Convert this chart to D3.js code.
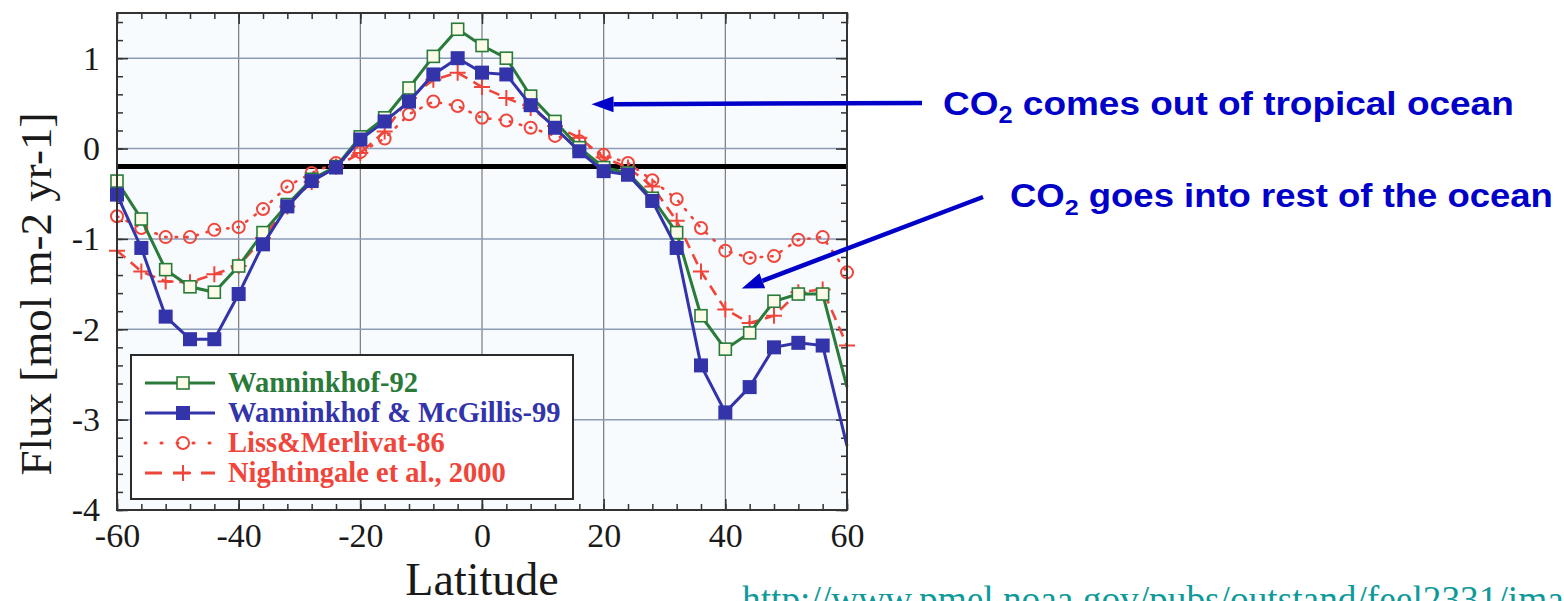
<!DOCTYPE html>
<html>
<head>
<meta charset="utf-8">
<script src="https://cdn.jsdelivr.net/npm/d3@7"></script>
<style>
  body { margin: 0; background: #ffffff; }
  svg { display: block; }
</style>
</head>
<body>
<svg id="chart" width="1564" height="601"></svg>
<script>
// latitude bins (every 4 degrees)
var lat = [-60, -56, -52, -48, -44, -40, -36, -32, -28, -24, -20, -16, -12, -8, -4, 0,
           4, 8, 12, 16, 20, 24, 28, 32, 36, 40, 44, 48, 52, 56, 60];

// flux values [mol m-2 yr-1]
var wann92 = [-0.36, -0.78, -1.34, -1.53, -1.59, -1.30, -0.93, -0.62, -0.34, -0.20, 0.13, 0.34, 0.67, 1.02, 1.32, 1.14,
              1.00, 0.58, 0.30, 0.01, -0.21, -0.27, -0.55, -0.93, -1.85, -2.22, -2.04, -1.69, -1.61, -1.61, -2.64];
var wannMcG99 = [-0.51, -1.10, -1.86, -2.11, -2.11, -1.61, -1.06, -0.64, -0.36, -0.21, 0.10, 0.30, 0.52, 0.82, 1.00, 0.84,
                 0.82, 0.48, 0.23, -0.03, -0.25, -0.29, -0.58, -1.10, -2.40, -2.92, -2.64, -2.20, -2.15, -2.18, -3.29];
var liss86 = [-0.75, -0.88, -0.98, -0.98, -0.90, -0.87, -0.67, -0.42, -0.27, -0.16, -0.04, 0.11, 0.38, 0.52, 0.47, 0.34,
              0.31, 0.23, 0.14, 0.08, -0.07, -0.16, -0.35, -0.56, -0.88, -1.13, -1.21, -1.19, -1.01, -0.98, -1.37];
var night00 = [-1.13, -1.36, -1.47, -1.48, -1.39, -1.30, -0.99, -0.64, -0.37, -0.20, -0.05, 0.19, 0.56, 0.76, 0.84, 0.68,
               0.56, 0.45, 0.25, 0.12, -0.10, -0.21, -0.42, -0.80, -1.36, -1.78, -1.93, -1.85, -1.59, -1.56, -2.18];

var seriesNames = ["Wanninkhof-92", "Wanninkhof & McGillis-99", "Liss&Merlivat-86", "Nightingale et al., 2000"];

var xTicks = [-60, -40, -20, 0, 20, 40, 60];
var yTicks = [-4, -3, -2, -1, 0, 1];
var xGrid = [-40, -20, 0, 20, 40];
var yGrid = [-3, -2, -1, 0, 1];
var zeroLine = -0.2;   // thick black reference line

var notes = ["comes out of tropical ocean", "goes into rest of the ocean"];
var sourceUrl = "http://www.pmel.noaa.gov/pubs/outstand/feel2331/images";

var svg = d3.select("#chart");
var plotL = 117, plotR = 847, plotT = 13, plotB = 510;

var x = d3.scaleLinear().domain([-60, 60]).range([plotL, plotR]);
var y = d3.scaleLinear().domain([-4, 1.5]).range([plotB, plotT]);

var green = "#2a7a3a", blue = "#3333aa", red = "#f0453a", noteBlue = "#0000c8";
var serif = "Liberation Serif, Times New Roman, serif";

function plainNum(d) { return String(d); } // hyphen minus, like the original

// plot background
svg.append("rect")
    .attr("x", plotL).attr("y", plotT)
    .attr("width", plotR - plotL).attr("height", plotB - plotT)
    .attr("fill", "#f7fbfd");

// grid
svg.selectAll(".vgrid").data(xGrid).enter().append("line")
    .attr("class", "vgrid")
    .attr("x1", function (d) { return x(d); }).attr("x2", function (d) { return x(d); })
    .attr("y1", plotT).attr("y2", plotB)
    .attr("stroke", "#7a7a7a").attr("stroke-width", 1.2);

svg.selectAll(".hgrid").data(yGrid).enter().append("line")
    .attr("class", "hgrid")
    .attr("x1", plotL).attr("x2", plotR)
    .attr("y1", function (d) { return y(d); }).attr("y2", function (d) { return y(d); })
    .attr("stroke", "#8c9bb8").attr("stroke-width", 1.5);

// inward ticks on all four sides
function tickAxis(axis, values, size, tx, ty) {
    var g = svg.append("g")
        .attr("transform", "translate(" + tx + "," + ty + ")")
        .call(axis.tickValues(values).tickSize(size).tickFormat(""));
    g.select(".domain").remove();
    g.selectAll("line").attr("stroke", "#333").attr("stroke-width", 1.5);
    return g;
}
var xMinor = d3.range(-60, 61, 4);
var yMinor = d3.range(-4, 1.51, 0.2);
tickAxis(d3.axisBottom(x), xMinor, -6, 0, plotB);
tickAxis(d3.axisTop(x), xMinor, -6, 0, plotT);
tickAxis(d3.axisLeft(y), yMinor, -6, plotL, 0);
tickAxis(d3.axisRight(y), yMinor, -6, plotR, 0);
tickAxis(d3.axisBottom(x), xTicks, -11, 0, plotB);
tickAxis(d3.axisTop(x), xTicks, -11, 0, plotT);
tickAxis(d3.axisLeft(y), yTicks, -11, plotL, 0);
tickAxis(d3.axisRight(y), yTicks, -11, plotR, 0);

// tick labels
var xLab = svg.append("g")
    .attr("transform", "translate(0," + plotB + ")")
    .call(d3.axisBottom(x).tickValues(xTicks).tickSize(0).tickPadding(10).tickFormat(plainNum));
xLab.select(".domain").remove();
xLab.selectAll("text")
    .attr("font-family", serif)
    .attr("font-size", 34).attr("fill", "#1a1a1a")
    .attr("dy", "0.78em");

var yLab = svg.append("g")
    .attr("transform", "translate(" + plotL + ",0)")
    .call(d3.axisLeft(y).tickValues(yTicks).tickSize(0).tickPadding(17).tickFormat(plainNum));
yLab.select(".domain").remove();
yLab.selectAll("text")
    .attr("font-family", serif)
    .attr("font-size", 34).attr("fill", "#1a1a1a");

// axis titles
svg.append("text")
    .attr("x", 482).attr("y", 595)
    .attr("text-anchor", "middle")
    .attr("font-family", serif)
    .attr("font-size", 46).attr("fill", "#1a1a1a")
    .text("Latitude");

svg.append("text")
    .attr("transform", "translate(51,294) rotate(-90)")
    .attr("text-anchor", "middle")
    .attr("font-family", serif)
    .attr("font-size", 45).attr("fill", "#1a1a1a")
    .text("Flux [mol m-2 yr-1]");

// thick black line
svg.append("line")
    .attr("x1", plotL).attr("x2", plotR)
    .attr("y1", y(zeroLine)).attr("y2", y(zeroLine))
    .attr("stroke", "#000").attr("stroke-width", 5);

// series
var series = [
    { name: seriesNames[0], values: wann92, color: green, dash: null, marker: "openSquare", last: false },
    { name: seriesNames[1], values: wannMcG99, color: blue, dash: null, marker: "filledSquare", last: false },
    { name: seriesNames[2], values: liss86, color: red, dash: "1.5,9", marker: "circle", last: true },
    { name: seriesNames[3], values: night00, color: red, dash: "11,7", marker: "plus", last: true }
];

var line = d3.line()
    .x(function (d) { return x(d[0]); })
    .y(function (d) { return y(d[1]); });

function drawMarker(g, kind, color, cx, cy) {
    if (kind === "openSquare") {
        g.append("rect").attr("x", cx - 6).attr("y", cy - 6).attr("width", 12).attr("height", 12)
            .attr("fill", "#fbfbe8").attr("stroke", color).attr("stroke-width", 1.6);
    } else if (kind === "filledSquare") {
        g.append("rect").attr("x", cx - 7).attr("y", cy - 7).attr("width", 14).attr("height", 14)
            .attr("fill", color);
    } else if (kind === "circle") {
        g.append("circle").attr("cx", cx).attr("cy", cy).attr("r", 6)
            .attr("fill", "none").attr("stroke", color).attr("stroke-width", 2);
    } else {
        g.append("path")
            .attr("d", "M" + (cx - 8) + "," + cy + "H" + (cx + 8) + "M" + cx + "," + (cy - 8) + "V" + (cy + 8))
            .attr("stroke", color).attr("stroke-width", 2);
    }
}

// draw back to front: red ones first
[2, 3, 0, 1].forEach(function (i) {
    var s = series[i];
    var pts = lat.map(function (d, j) { return [d, s.values[j]]; });
    svg.append("path")
        .datum(pts)
        .attr("d", line)
        .attr("fill", "none")
        .attr("stroke", s.color)
        .attr("stroke-width", s.dash ? 2.6 : 3)
        .attr("stroke-linecap", s.dash === "1.5,9" ? "round" : "butt")
        .attr("stroke-dasharray", s.dash);
    var mg = svg.append("g");
    pts.forEach(function (p, j) {
        if (j === pts.length - 1 && !s.last) { return; } // clipped at the edge
        drawMarker(mg, s.marker, s.color, x(p[0]), y(p[1]));
    });
});

// frame
svg.append("rect")
    .attr("x", plotL).attr("y", plotT)
    .attr("width", plotR - plotL).attr("height", plotB - plotT)
    .attr("fill", "none").attr("stroke", "#333").attr("stroke-width", 2);

// legend
var lg = svg.append("g");
lg.append("rect")
    .attr("x", 131).attr("y", 355).attr("width", 442).attr("height", 144)
    .attr("fill", "#ffffff").attr("stroke", "#2a2a2a").attr("stroke-width", 2);
var legendText = [green, blue, red, red];
series.forEach(function (s, i) {
    var ly = 383 + i * 30;
    lg.append("line")
        .attr("x1", 145).attr("x2", 215).attr("y1", ly).attr("y2", ly)
        .attr("stroke", s.color).attr("stroke-width", 3)
        .attr("stroke-linecap", s.dash === "1.5,9" ? "round" : "butt")
        .attr("stroke-dasharray", s.dash === "1.5,9" ? "1,15" : (s.dash ? "17,11" : null));
    drawMarker(lg, s.marker, s.color, 183, ly);
    lg.append("text")
        .attr("x", 228).attr("y", ly + 9)
        .attr("font-family", serif)
        .attr("font-weight", "bold")
        .attr("font-size", 28.5)
        .attr("fill", legendText[i])
        .text(s.name);
});

// annotations with arrows
function arrow(x1, y1, x2, y2) {
    var ang = Math.atan2(y2 - y1, x2 - x1);
    var hl = 22, hw = 8;
    var bx = x2 - hl * Math.cos(ang), by = y2 - hl * Math.sin(ang);
    svg.append("line")
        .attr("x1", x1).attr("y1", y1).attr("x2", bx).attr("y2", by)
        .attr("stroke", noteBlue).attr("stroke-width", 4.5);
    svg.append("path")
        .attr("d", "M" + x2 + "," + y2 +
            "L" + (bx + hw * Math.sin(ang)) + "," + (by - hw * Math.cos(ang)) +
            "L" + (bx - hw * Math.sin(ang)) + "," + (by + hw * Math.cos(ang)) + "Z")
        .attr("fill", noteBlue);
}
arrow(922, 103, x(18), y(0.49));
arrow(983, 197, x(42.7), y(-1.55));

function note(tx, ty, width, rest) {
    var g = svg.append("g");
    var t = g.append("text")
        .attr("font-family", "Liberation Sans, Arial, sans-serif")
        .attr("font-weight", "bold")
        .attr("font-size", 33.5)
        .attr("fill", noteBlue);
    t.append("tspan").text("CO");
    t.append("tspan").attr("font-size", 23).attr("dy", 8).text("2");
    t.append("tspan").attr("dy", -8).text(" " + rest);
    var w = t.node().getComputedTextLength();
    g.attr("transform", "translate(" + tx + "," + ty + ") scale(" + (width / w) + ",1)");
}
note(943, 115, 571, notes[0]);
note(1010, 207, 543, notes[1]);

// source url, cut off at the bottom edge; sized so "...feel2331/ima" reaches the right edge
var url = svg.append("text")
    .attr("x", 742).attr("y", 612)
    .attr("font-family", serif)
    .attr("font-size", 36)
    .attr("fill", "#0e9a9a")
    .text(sourceUrl.slice(0, sourceUrl.length - 3));
var urlSize = 36 * 822 / url.node().getComputedTextLength();
url.attr("font-size", urlSize).attr("y", 587 + urlSize * 0.68).text(sourceUrl);
</script>
</body>
</html>
